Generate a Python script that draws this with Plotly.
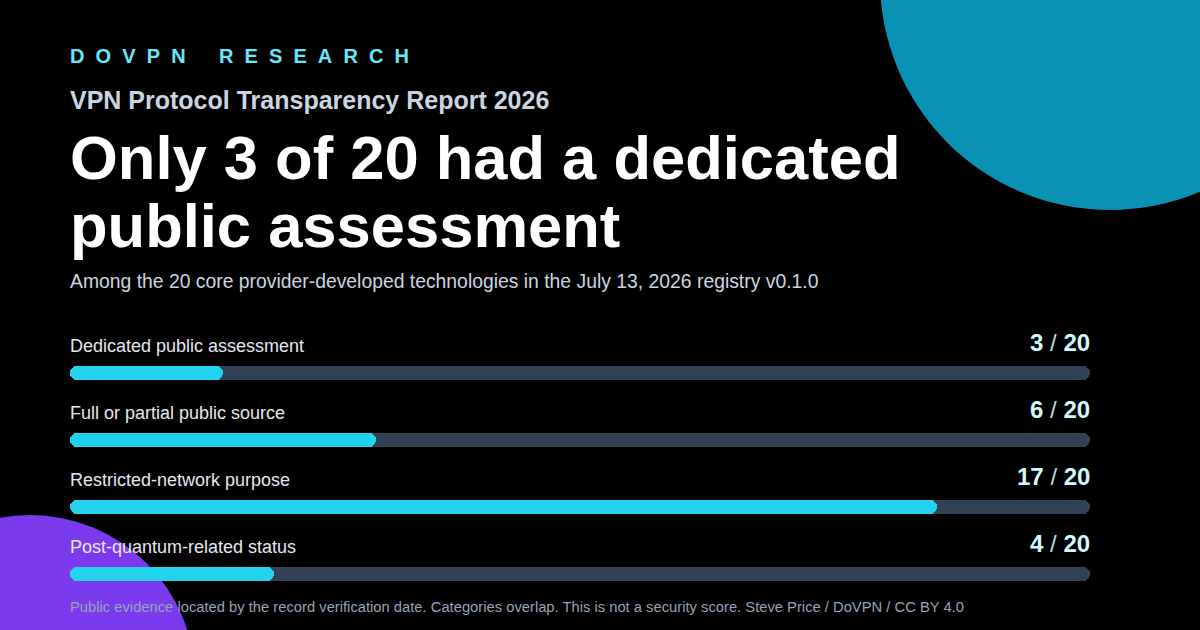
import plotly.graph_objects as go

W, H = 1200, 630

# data
categories = [
    "Dedicated public assessment",
    "Full or partial public source",
    "Restricted-network purpose",
    "Post-quantum-related status",
]
counts = [3, 6, 17, 4]
total = 20

kicker = "DOVPN RESEARCH"
report = "VPN Protocol Transparency Report 2026"
headline = ["Only 3 of 20 had a dedicated", "public assessment"]
subhead = "Among the 20 core provider-developed technologies in the July 13, 2026 registry v0.1.0"
footer = ("Public evidence located by the record verification date. Categories overlap. "
          "This is not a security score. Steve Price / DoVPN / CC BY 4.0")

FONT = "Liberation Sans, Arial, sans-serif"
FILL = "#22d3ee"
TRACK = "#334155"


def py(px):
    # pixel row -> paper y
    return 1 - px / H


def spaced(s):
    out = []
    for word in s.split(" "):
        out.append("\u00a0\u00a0".join(word))
    return ("\u00a0" * 6).join(out)


pos = list(range(len(categories)))

fig = go.Figure()

# track, then filled part on top
fig.add_trace(go.Bar(y=pos, x=[total] * len(pos), base=[0] * len(pos),
                     orientation="h", marker=dict(color=TRACK, cornerradius=7, line_width=0),
                     width=14 / 67, hoverinfo="skip", showlegend=False))
fig.add_trace(go.Bar(y=pos, x=counts, base=[0] * len(pos),
                     orientation="h", marker=dict(color=FILL, cornerradius=7, line_width=0),
                     width=14 / 67, hoverinfo="skip", showlegend=False))

annotations = []
for i, (cat, c) in enumerate(zip(categories, counts)):
    annotations.append(dict(x=0, y=i, xref="x", yref="y", text=cat,
                            xanchor="left", yanchor="middle", yshift=27, xshift=-2, showarrow=False,
                            font=dict(family=FONT, size=18, color="#e2e8f0")))
    annotations.append(dict(x=total, y=i, xref="x", yref="y",
                            text=f"<b>{c}</b> <span style='color:#b9dde4'>/</span> <b>{total}</b>",
                            xanchor="right", yanchor="middle", yshift=30, xshift=2, showarrow=False,
                            font=dict(family=FONT, size=24, color="#cffafe")))

# header text
x0 = 68 / W
header = [
    dict(x=x0, y=py(56), text=f"<b>{spaced(kicker)}</b>", font=dict(family=FONT, size=20, color="#67e8f9")),
    dict(x=x0, y=py(100), text=f"<b>{report}</b>", font=dict(family=FONT, size=25, color="#cbd5e1")),
    dict(x=x0, y=py(157), text=f"<b>{headline[0]}</b>", font=dict(family=FONT, size=61.5, color="#ffffff")),
    dict(x=x0, y=py(225), text=f"<b>{headline[1]}</b>", font=dict(family=FONT, size=61.5, color="#ffffff")),
    dict(x=x0, y=py(281), text=subhead, font=dict(family=FONT, size=19.35, color="#cbd5e1")),
    dict(x=x0, y=py(607), text=footer, font=dict(family=FONT, size=14.75, color="#94a3b8")),
]
for a in header:
    a.update(xref="paper", yref="paper", xanchor="left", yanchor="middle", showarrow=False)
annotations += header

shapes = [
    dict(type="circle", xref="paper", yref="paper", layer="below", line_width=0,
         fillcolor="#0891b2", x0=880 / W, x1=1340 / W, y0=py(210), y1=py(-250)),
    dict(type="circle", xref="paper", yref="paper", layer="below", line_width=0,
         fillcolor="#7c3aed", x0=-135 / W, x1=195 / W, y0=py(845), y1=py(515)),
]

fig.update_layout(
    width=W, height=H,
    margin=dict(l=0, r=0, t=0, b=0),
    paper_bgcolor="#000000", plot_bgcolor="rgba(0,0,0,0)",
    barmode="overlay", bargap=0,
    xaxis=dict(domain=[70 / W, 1090 / W], range=[0, total], visible=False, fixedrange=True),
    yaxis=dict(domain=[py(607), py(339)], range=[3.5, -0.5], visible=False, fixedrange=True),
    annotations=annotations,
    shapes=shapes,
    showlegend=False,
)

fig.write_html("out.html", config={"displayModeBar": False},
               post_script="document.body.style.margin='0';document.body.style.background='#000';")
